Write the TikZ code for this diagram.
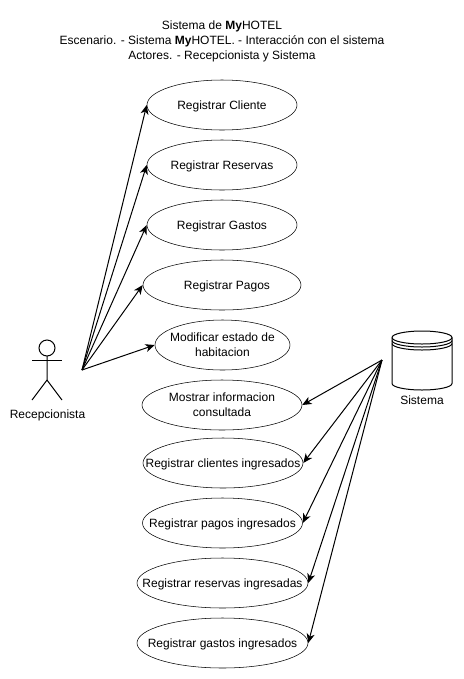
\documentclass[tikz,border=0pt]{standalone}
\usepackage{fontspec}
\setmainfont{Liberation Sans}
\usetikzlibrary{arrows.meta,shapes.geometric}
\begin{document}
\begin{tikzpicture}[x=0.75pt,y=-0.75pt,
        caso/.style={draw,ellipse,inner xsep=-60pt,inner ysep=0pt,minimum height=37.5pt,text depth=0.4pt,align=center,font=\fontsize{9}{11.25}\selectfont},
        casodoble/.style={caso,text depth=-1.1pt},
        texto/.style={inner sep=0pt,align=center,font=\fontsize{9}{11.25}\selectfont},
        flecha/.style={-{Stealth[length=7pt,width=6pt,inset=2pt]},line width=0.75pt}]
    \useasboundingbox (0,0) rectangle (464,679);
    \node[texto] (titulo) at (222,41) {Sistema de \textbf{My}HOTEL\\Escenario. - Sistema \textbf{My}HOTEL. - Interacción con el sistema\\Actores. - Recepcionista y Sistema};
    % casos del recepcionista
    \node[caso,minimum width=112.5pt] (cliente) at (222,105) {Registrar Cliente};
    \node[caso,minimum width=112.5pt] (reservas) at (222,165) {Registrar Reservas};
    \node[caso,minimum width=112.5pt] (gastos) at (222,225) {Registrar Gastos};
    \node[caso,minimum width=118.5pt] (pagos) at (222,285) {\hspace*{7.5pt}Registrar Pagos};
    \node[casodoble,minimum width=101.25pt] (estado) at (222.5,345) {Modificar estado de\\habitacion};
    % casos del sistema
    \node[casodoble,minimum width=120pt] (mostrar) at (222,405) {Mostrar informacion\\consultada};
    \node[caso,minimum width=120pt] (clientesing) at (223,463) {Registrar clientes ingresados};
    \node[caso,minimum width=120pt] (pagosing) at (222.5,523) {Registrar pagos ingresados};
    \node[caso,minimum width=128.25pt] (reservasing) at (222.5,583) {Registrar reservas ingresadas};
    \node[caso,minimum width=128.25pt] (gastosing) at (222.5,643) {Registrar gastos ingresados};
    % actor
    \draw[line width=0.75pt] (47,348) circle (8);
    \draw[line width=0.75pt] (47,356)--(47,380)--(32,400);
    \draw[line width=0.75pt] (47,380)--(62,400);
    \draw[line width=0.75pt] (32,360)--(62,360);
    \node[texto] (recepcionista) at (47.5,415) {Recepcionista};
    % base de datos
    \draw[line width=0.75pt] (392,337.5) arc[start angle=180,end angle=360,x radius=30,y radius=6.5]--(452,383.5) arc[start angle=0,end angle=180,x radius=30,y radius=6.5]--cycle;
    \draw[line width=0.75pt] (392,337.5) arc[start angle=180,end angle=0,x radius=30,y radius=6.5];
    \draw[line width=0.75pt] (392,340.5) arc[start angle=180,end angle=0,x radius=30,y radius=6.5];
    \draw[line width=0.75pt] (392,343.5) arc[start angle=180,end angle=0,x radius=30,y radius=6.5];
    \node[texto] (sistema) at (422,400) {Sistema};
    % conectores
    \coordinate (recep) at (82,370);
    \coordinate (sist) at (382,360);
    \draw[flecha] (recep)--(cliente.west);
    \draw[flecha] (recep)--(reservas.west);
    \draw[flecha] (recep)--(gastos.west);
    \draw[flecha] (recep)--(pagos.west);
    \draw[flecha] (recep)--(estado.west);
    \draw[flecha] (sist)--(mostrar.east);
    \draw[flecha] (sist)--(clientesing.east);
    \draw[flecha] (sist)--(pagosing.east);
    \draw[flecha] (sist)--(reservasing.east);
    \draw[flecha] (sist)--(gastosing.east);
\end{tikzpicture}
\end{document}
